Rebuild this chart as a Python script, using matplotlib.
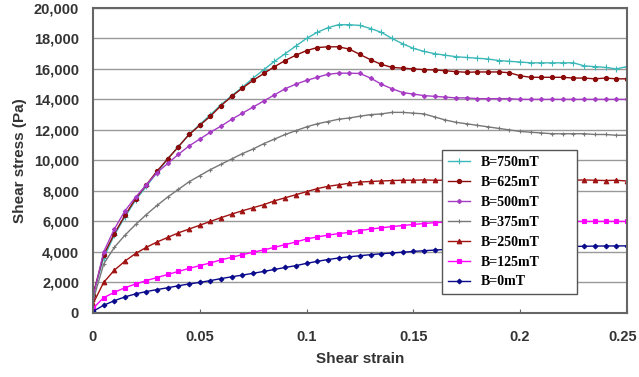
import numpy as np
import matplotlib.pyplot as plt
import matplotlib.transforms as mtransforms
from matplotlib.ticker import FuncFormatter

strain = np.round(np.arange(0, 0.2501, 0.005), 4)

b750 = [1200, 3600, 5100, 6300, 7400, 8300, 9200, 10100, 10900, 11700,
        12350, 13000, 13650, 14250, 14800, 15400, 15950, 16500, 17000, 17500,
        18000, 18400, 18700, 18900, 18900, 18850, 18650, 18400, 18000, 17650,
        17350, 17150, 17000, 16900, 16800, 16750, 16700, 16650, 16550, 16500,
        16450, 16400, 16400, 16400, 16400, 16400, 16200, 16150, 16100, 16000,
        16150]
b625 = [1200, 3800, 5200, 6400, 7500, 8400, 9300, 10100, 10900, 11700,
        12300, 12900, 13600, 14200, 14750, 15250, 15700, 16150, 16550, 16900,
        17200, 17400, 17450, 17450, 17300, 16950, 16600, 16300, 16100, 16050,
        16000, 15950, 15930, 15880, 15820, 15780, 15800, 15800, 15800, 15750,
        15550, 15450, 15450, 15450, 15450, 15400, 15400, 15350, 15400, 15350,
        15350]
b500 = [1000, 4000, 5500, 6700, 7600, 8400, 9200, 9800, 10400, 10950,
        11400, 11850, 12250, 12700, 13100, 13500, 13900, 14300, 14700, 15000,
        15250, 15450, 15650, 15720, 15720, 15700, 15400, 15000, 14700, 14450,
        14350, 14250, 14200, 14150, 14100, 14100, 14050, 14050, 14050, 14050,
        14000, 14000, 14000, 14000, 14000, 14000, 14000, 14000, 14000, 14000,
        14000]
b375 = [800, 3200, 4300, 5100, 5800, 6450, 7050, 7600, 8100, 8600,
        9000, 9400, 9750, 10100, 10450, 10750, 11100, 11400, 11700, 11950,
        12200, 12400, 12550, 12700, 12780, 12900, 13000, 13050, 13150, 13150,
        13100, 13050, 12850, 12650, 12500, 12400, 12300, 12200, 12100, 12000,
        11900, 11850, 11800, 11750, 11750, 11750, 11750, 11700, 11700, 11650,
        11650]
b250 = [600, 2000, 2800, 3400, 3900, 4300, 4650, 4950, 5250, 5500,
        5750, 6000, 6250, 6480, 6700, 6900, 7100, 7350, 7550, 7750,
        7950, 8150, 8300, 8400, 8500, 8580, 8620, 8650, 8680, 8700,
        8700, 8720, 8700, 8700, 8720, 8700, 8680, 8700, 8700, 8720,
        8700, 8700, 8680, 8700, 8700, 8700, 8720, 8700, 8680, 8700,
        8650]
b125 = [300, 1000, 1350, 1650, 1900, 2120, 2320, 2520, 2720, 2920,
        3100, 3280, 3480, 3650, 3820, 3980, 4130, 4300, 4480, 4650,
        4850, 4980, 5100, 5200, 5280, 5400, 5500, 5580, 5660, 5730,
        5800, 5860, 5920, 5950, 5980, 6000, 6000, 6000, 6000, 6000,
        6000, 6000, 6000, 6000, 6000, 6000, 6000, 6000, 6000, 6000,
        6000]
b0 = [100, 500, 800, 1050, 1250, 1400, 1530, 1650, 1780, 1900,
      2000, 2120, 2250, 2370, 2480, 2600, 2720, 2850, 2980, 3100,
      3250, 3380, 3500, 3600, 3680, 3750, 3820, 3880, 3930, 3980,
      4030, 4080, 4120, 4160, 4200, 4220, 4250, 4270, 4290, 4300,
      4310, 4320, 4330, 4340, 4350, 4360, 4370, 4380, 4390, 4390,
      4400]

labels = ["B=750mT", "B=625mT", "B=500mT", "B=375mT", "B=250mT", "B=125mT", "B=0mT"]
series = [b750, b625, b500, b375, b250, b125, b0]
colors = ["#3DB8B8", "#8B0A0A", "#A63CC4", "#777777", "#A01212", "#FF00FF", "#0A0A8C"]
markers = ["+", "o", "D", "+", "^", "s", "D"]
msizes = [4, 3, 2.2, 3.5, 3.3, 3.0, 2.4]

fig = plt.figure(figsize=(6.39, 3.77), dpi=100)
ax = fig.add_axes([0.1455, 0.170, 0.8355, 0.809])

for vals, lab, c, m, ms in zip(series, labels, colors, markers, msizes):
    ax.plot(strain, vals, color=c, marker=m, markersize=ms, linewidth=1,
            markeredgewidth=0.8, label=lab)

ax.set_xlim(0, 0.25)
ax.set_ylim(0, 20000)
ax.set_xticks([0, 0.05, 0.1, 0.15, 0.2, 0.25])
ax.set_xticklabels(["0", "0.05", "0.1", "0.15", "0.2", "0.25"])
ax.set_yticks(np.arange(0, 20001, 2000))
ax.yaxis.set_major_formatter(FuncFormatter(lambda v, p: f"{int(v):,}"))
ax.grid(axis="y", color="#999999", linewidth=1)
ax.set_axisbelow(True)
for s in ax.spines.values():
    s.set_color("#666666")
    s.set_linewidth(1.5)
ax.tick_params(axis="x", direction="in", length=3, color="#666666", pad=12)
ax.tick_params(axis="y", length=0, pad=10)
for t in ax.get_xticklabels() + ax.get_yticklabels():
    t.set_fontsize(10.5)
    t.set_fontweight("bold")
    t.set_color("#333333")
    t.set_family("Liberation Sans")

# last x label sits at the figure edge, nudge it inwards a little
last = ax.get_xticklabels()[-1]
last.set_transform(last.get_transform() +
                   mtransforms.ScaledTranslation(-4 / 100, 0, fig.dpi_scale_trans))

ax.set_xlabel("Shear strain", fontsize=11, fontweight="bold", family="Liberation Sans",
              color="#333333", labelpad=6)
ax.set_ylabel("Shear stress (Pa)", fontsize=11, fontweight="bold", family="Liberation Sans",
              color="#333333", labelpad=5)

leg = ax.legend(loc="lower left", bbox_to_anchor=(0.654, 0.062, 0.252, 0.479),
                mode="expand", borderaxespad=0, fancybox=False, framealpha=1,
                edgecolor="#555555", handlelength=1.6, labelspacing=0.5,
                prop={"family": "Liberation Serif", "weight": "bold", "size": 10})
leg.get_frame().set_linewidth(1.0)

fig.savefig("out.png", dpi=100)
